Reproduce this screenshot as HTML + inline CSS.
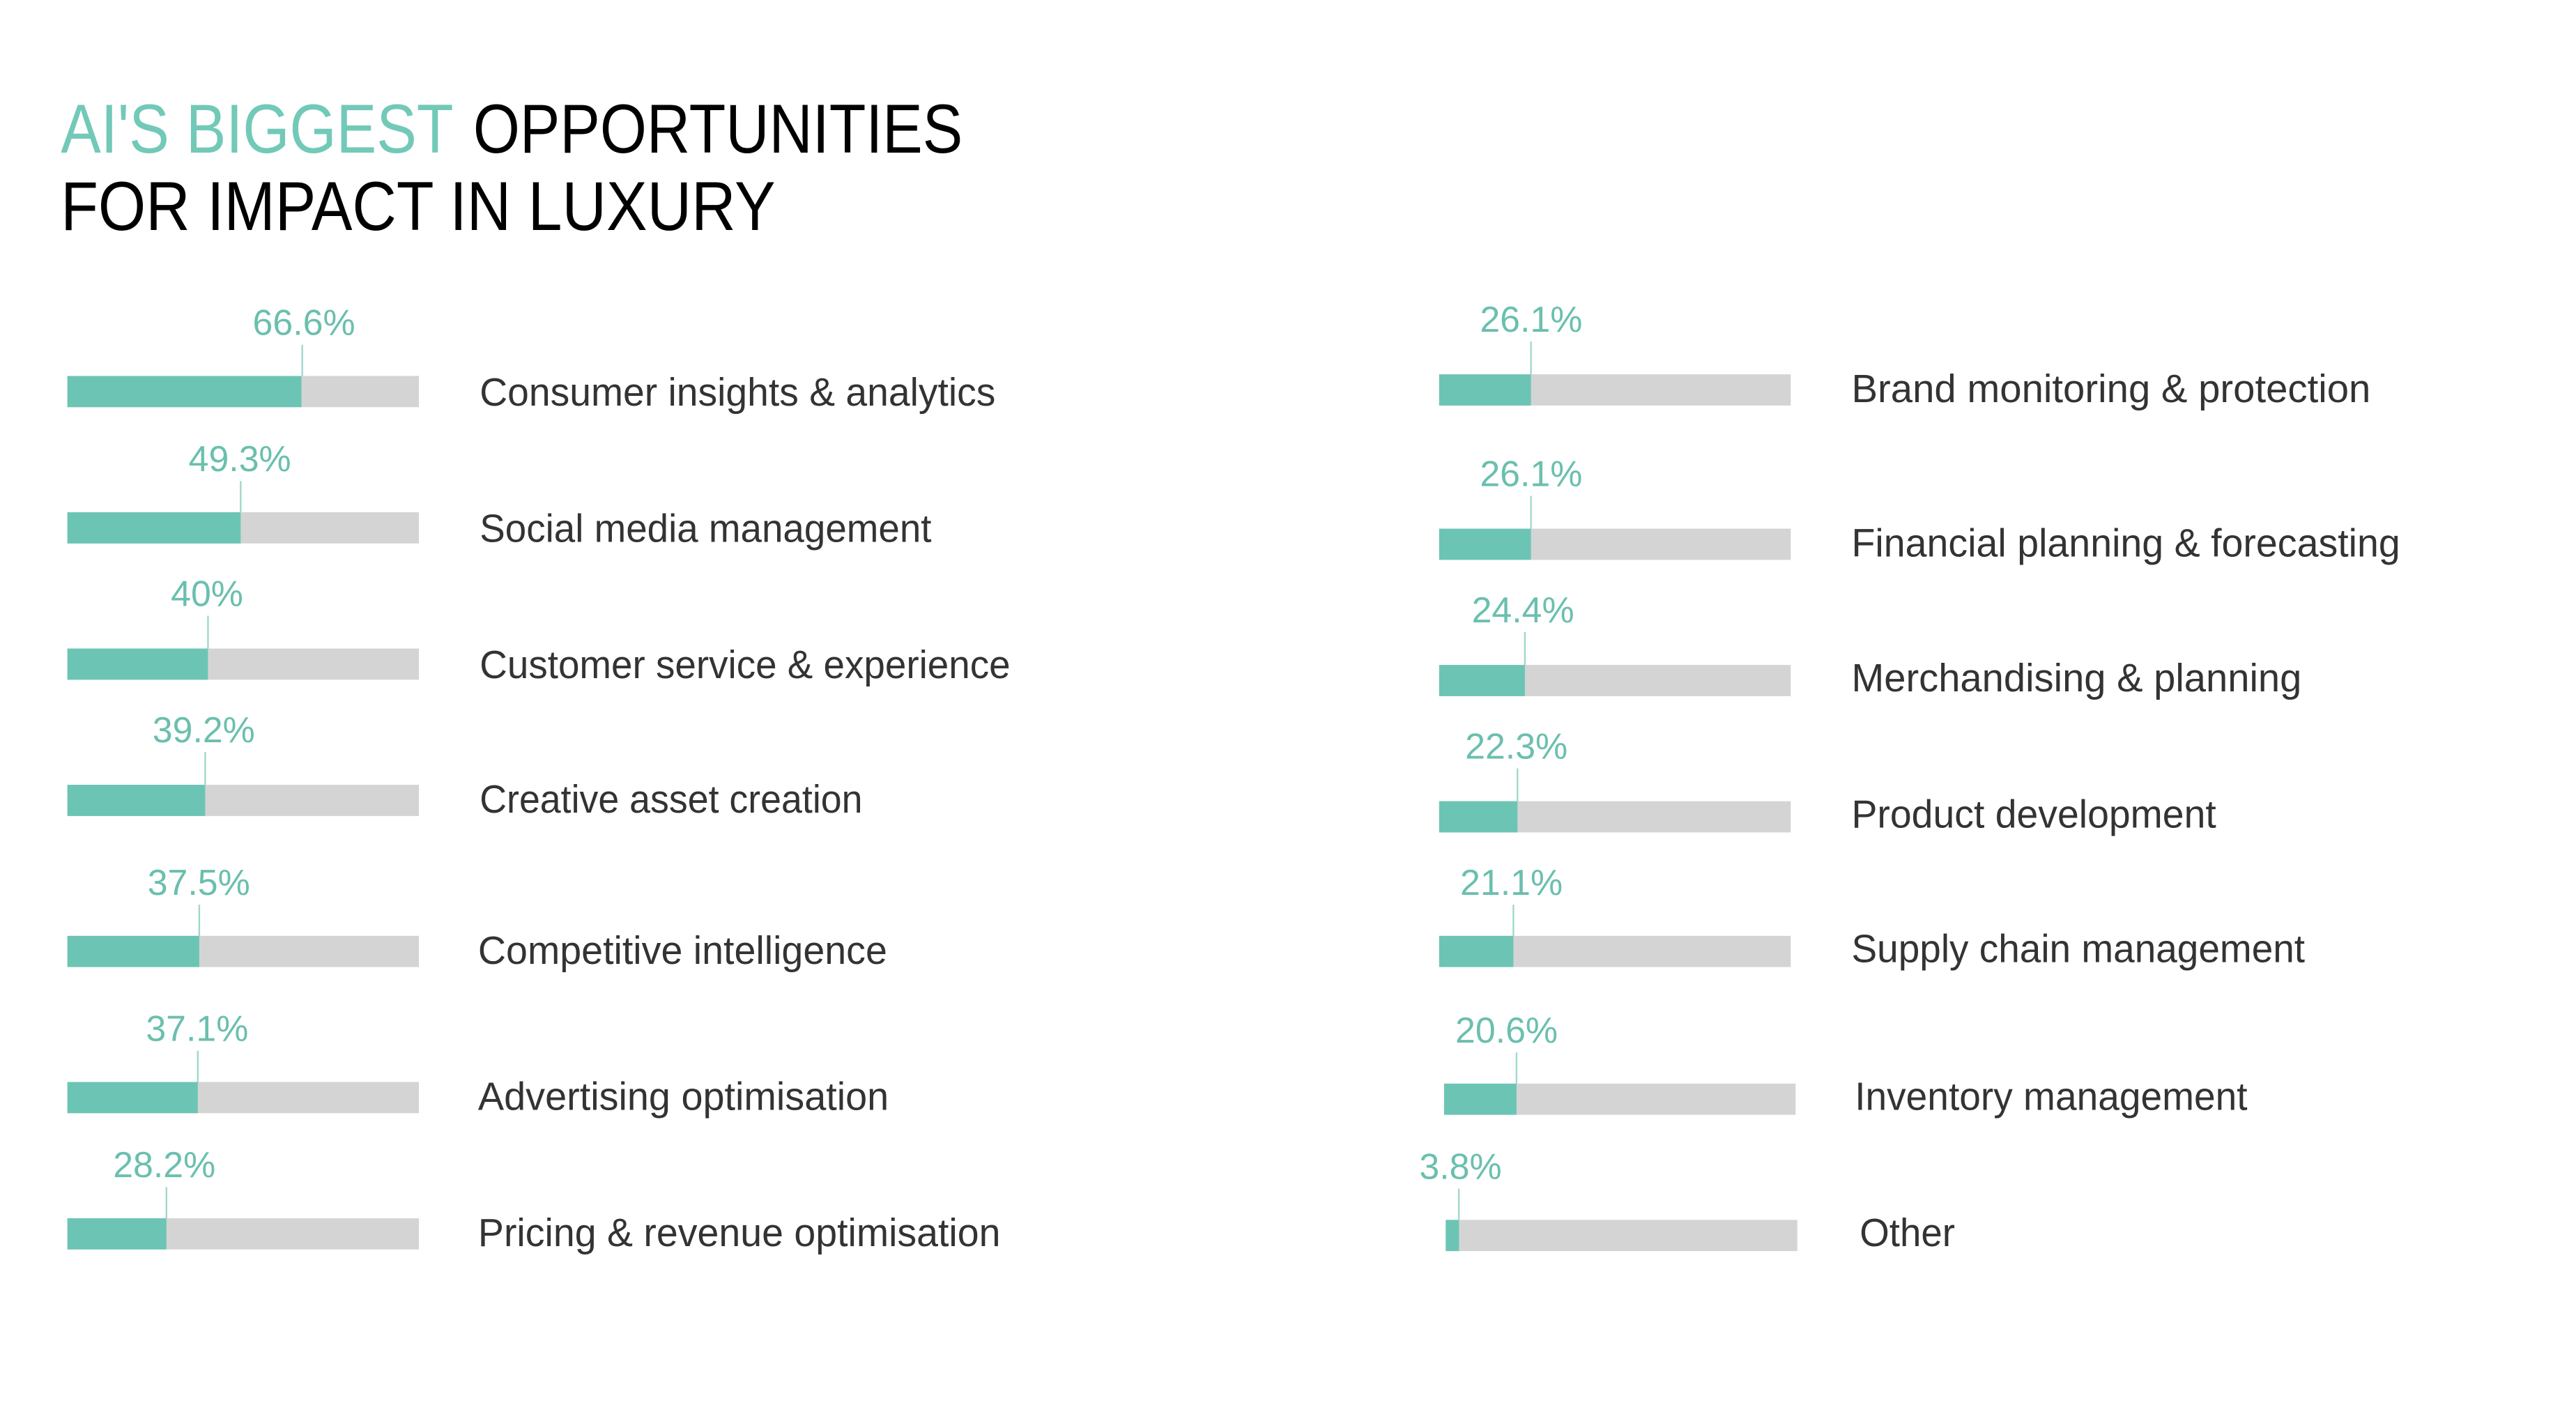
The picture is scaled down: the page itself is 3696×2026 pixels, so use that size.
<!DOCTYPE html>
<html><head><meta charset="utf-8"><style>
html,body{margin:0;padding:0;background:#fff;}
svg{display:block;}
text{font-family:"Liberation Sans",sans-serif;}
.l{font-size:24px;fill:#333;}
.p{font-size:22px;fill:#6bbfae;text-anchor:middle;}
</style></head><body>
<svg width="3696" height="2026" viewBox="0 0 1568 860" preserveAspectRatio="none" xmlns="http://www.w3.org/2000/svg">
<rect width="1568" height="860" fill="#fff"/>
<text x="37" y="93" font-size="42" fill="#72c9b8" textLength="239" lengthAdjust="spacingAndGlyphs">AI'S BIGGEST</text>
<text x="288" y="93" font-size="42" fill="#000" textLength="298" lengthAdjust="spacingAndGlyphs">OPPORTUNITIES</text>
<text x="37" y="140" font-size="42" fill="#000" textLength="435" lengthAdjust="spacingAndGlyphs">FOR IMPACT IN LUXURY</text>
<g>
<rect x="41" y="229" width="214" height="19" fill="#d4d4d4"/><rect x="41" y="229" width="142.5" height="19" fill="#6cc5b4"/><line x1="184" y1="229" x2="184" y2="210" stroke="#9fd8cc" stroke-width="1"/><text class="p" x="185" y="204">66.6%</text><text class="l" x="292" y="247" textLength="314" lengthAdjust="spacingAndGlyphs">Consumer insights &amp; analytics</text>
<rect x="41" y="312" width="214" height="19" fill="#d4d4d4"/><rect x="41" y="312" width="105.5" height="19" fill="#6cc5b4"/><line x1="146.5" y1="312" x2="146.5" y2="293" stroke="#9fd8cc" stroke-width="1"/><text class="p" x="146" y="287">49.3%</text><text class="l" x="292" y="330" textLength="275" lengthAdjust="spacingAndGlyphs">Social media management</text>
<rect x="41" y="395" width="214" height="19" fill="#d4d4d4"/><rect x="41" y="395" width="85.6" height="19" fill="#6cc5b4"/><line x1="126.6" y1="395" x2="126.6" y2="375" stroke="#9fd8cc" stroke-width="1"/><text class="p" x="126" y="369">40%</text><text class="l" x="292" y="413" textLength="323" lengthAdjust="spacingAndGlyphs">Customer service &amp; experience</text>
<rect x="41" y="478" width="214" height="19" fill="#d4d4d4"/><rect x="41" y="478" width="83.9" height="19" fill="#6cc5b4"/><line x1="124.9" y1="478" x2="124.9" y2="458" stroke="#9fd8cc" stroke-width="1"/><text class="p" x="124" y="452">39.2%</text><text class="l" x="292" y="495" textLength="233" lengthAdjust="spacingAndGlyphs">Creative asset creation</text>
<rect x="41" y="570" width="214" height="19" fill="#d4d4d4"/><rect x="41" y="570" width="80.3" height="19" fill="#6cc5b4"/><line x1="121.3" y1="570" x2="121.3" y2="551" stroke="#9fd8cc" stroke-width="1"/><text class="p" x="121" y="545">37.5%</text><text class="l" x="291" y="587" textLength="249" lengthAdjust="spacingAndGlyphs">Competitive intelligence</text>
<rect x="41" y="659" width="214" height="19" fill="#d4d4d4"/><rect x="41" y="659" width="79.4" height="19" fill="#6cc5b4"/><line x1="120.4" y1="659" x2="120.4" y2="640" stroke="#9fd8cc" stroke-width="1"/><text class="p" x="120" y="634">37.1%</text><text class="l" x="291" y="676" textLength="250" lengthAdjust="spacingAndGlyphs">Advertising optimisation</text>
<rect x="41" y="742" width="214" height="19" fill="#d4d4d4"/><rect x="41" y="742" width="60.3" height="19" fill="#6cc5b4"/><line x1="101.3" y1="742" x2="101.3" y2="723" stroke="#9fd8cc" stroke-width="1"/><text class="p" x="100" y="717">28.2%</text><text class="l" x="291" y="759" textLength="318" lengthAdjust="spacingAndGlyphs">Pricing &amp; revenue optimisation</text>
</g>
<g>
<rect x="876" y="228" width="214" height="19" fill="#d4d4d4"/><rect x="876" y="228" width="55.9" height="19" fill="#6cc5b4"/><line x1="931.9" y1="228" x2="931.9" y2="208" stroke="#9fd8cc" stroke-width="1"/><text class="p" x="932" y="202">26.1%</text><text class="l" x="1127" y="245" textLength="316" lengthAdjust="spacingAndGlyphs">Brand monitoring &amp; protection</text>
<rect x="876" y="322" width="214" height="19" fill="#d4d4d4"/><rect x="876" y="322" width="55.9" height="19" fill="#6cc5b4"/><line x1="931.9" y1="322" x2="931.9" y2="302" stroke="#9fd8cc" stroke-width="1"/><text class="p" x="932" y="296">26.1%</text><text class="l" x="1127" y="339" textLength="334" lengthAdjust="spacingAndGlyphs">Financial planning &amp; forecasting</text>
<rect x="876" y="405" width="214" height="19" fill="#d4d4d4"/><rect x="876" y="405" width="52.2" height="19" fill="#6cc5b4"/><line x1="928.2" y1="405" x2="928.2" y2="385" stroke="#9fd8cc" stroke-width="1"/><text class="p" x="927" y="379">24.4%</text><text class="l" x="1127" y="421" textLength="274" lengthAdjust="spacingAndGlyphs">Merchandising &amp; planning</text>
<rect x="876" y="488" width="214" height="19" fill="#d4d4d4"/><rect x="876" y="488" width="47.7" height="19" fill="#6cc5b4"/><line x1="923.7" y1="488" x2="923.7" y2="468" stroke="#9fd8cc" stroke-width="1"/><text class="p" x="923" y="462">22.3%</text><text class="l" x="1127" y="504" textLength="222" lengthAdjust="spacingAndGlyphs">Product development</text>
<rect x="876" y="570" width="214" height="19" fill="#d4d4d4"/><rect x="876" y="570" width="45.2" height="19" fill="#6cc5b4"/><line x1="921.2" y1="570" x2="921.2" y2="551" stroke="#9fd8cc" stroke-width="1"/><text class="p" x="920" y="545">21.1%</text><text class="l" x="1127" y="586" textLength="276" lengthAdjust="spacingAndGlyphs">Supply chain management</text>
<rect x="879" y="660" width="214" height="19" fill="#d4d4d4"/><rect x="879" y="660" width="44.1" height="19" fill="#6cc5b4"/><line x1="923.1" y1="660" x2="923.1" y2="641" stroke="#9fd8cc" stroke-width="1"/><text class="p" x="917" y="635">20.6%</text><text class="l" x="1129" y="676" textLength="239" lengthAdjust="spacingAndGlyphs">Inventory management</text>
<rect x="880" y="743" width="214" height="19" fill="#d4d4d4"/><rect x="880" y="743" width="8.1" height="19" fill="#6cc5b4"/><line x1="888" y1="743" x2="888" y2="724" stroke="#9fd8cc" stroke-width="1"/><text class="p" x="889" y="718">3.8%</text><text class="l" x="1132" y="759" textLength="58" lengthAdjust="spacingAndGlyphs">Other</text>
</g>
</svg>
</body></html>
